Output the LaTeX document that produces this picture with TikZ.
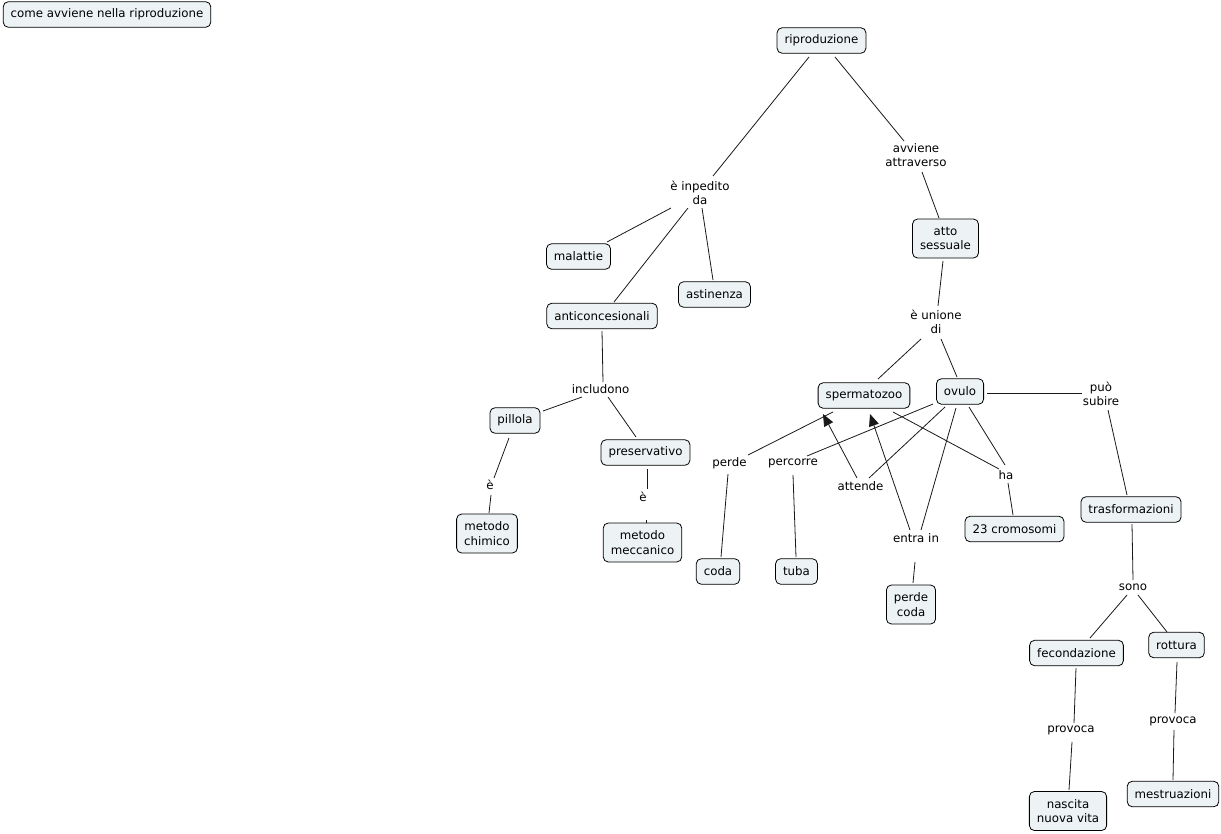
\documentclass[tikz,border=0pt]{standalone}
\usepackage{fontspec}
\newfontfamily\cmfont{DejaVu Sans}
\usetikzlibrary{arrows.meta}
\definecolor{cfill}{RGB}{237,243,245}
\begin{document}
\begin{tikzpicture}[x=1pt,y=-1pt,
  concept/.style={draw=black, line width=0.8pt, rounded corners=5pt, fill=cfill,
    font={\cmfont\fontsize{11.8}{14.5}\selectfont}, align=center,
    inner xsep=7.5pt, inner ysep=6pt, minimum height=25.5pt},
  twoline/.style={concept, minimum height=39pt},
  linklabel/.style={font={\cmfont\fontsize{11.8}{14.5}\selectfont}, align=center, inner sep=1pt},
  conn/.style={draw=black!90, line width=0.8pt},
  arr/.style={conn, -{Triangle[length=12pt,width=10pt]}}]
\useasboundingbox (0,0) rectangle (1221,833);
% concepts
\node[concept] (title) at (107,14.5) {come avviene nella riproduzione};
\node[concept] (ripro) at (821.5,40.5) {riproduzione};
\node[concept] (malattie) at (578.5,256.5) {malattie};
\node[concept] (astin) at (714.5,294.5) {astinenza};
\node[concept] (anti) at (602,316) {anticoncesionali};
\node[twoline] (atto) at (945.5,238.5) {atto\\sessuale};
\node[concept] (sperm) at (864,395.5) {spermatozoo};
\node[concept] (ovulo) at (960,391.5) {ovulo};
\node[concept] (pillola) at (515,420.5) {pillola};
\node[concept] (preserv) at (645.5,452.5) {preservativo};
\node[twoline] (chim) at (487,533.5) {metodo\\chimico};
\node[twoline] (mecc) at (642.5,542.5) {metodo\\meccanico};
\node[concept] (coda) at (718,571.5) {coda};
\node[concept] (tuba) at (796.5,571.5) {tuba};
\node[twoline] (pcoda) at (911,604.5) {perde\\coda};
\node[concept] (crom) at (1014.5,529) {23 cromosomi};
\node[concept] (trasf) at (1131,509.5) {trasformazioni};
\node[concept] (fecond) at (1076.5,653) {fecondazione};
\node[concept] (rottura) at (1176.5,645) {rottura};
\node[twoline] (nascita) at (1068,811) {nascita\\nuova vita};
\node[concept] (mestr) at (1173,794) {mestruazioni};
% link labels
\node[linklabel] (inped) at (700,193) {è inpedito\\da};
\node[linklabel] (avv) at (916,155) {avviene\\attraverso};
\node[linklabel] (unione) at (936,322) {è unione\\di};
\node[linklabel] (includ) at (600.5,389) {includono};
\node[linklabel] (e1) at (490,485) {è};
\node[linklabel] (e2) at (643,497) {è};
\node[linklabel] (perdeL) at (729.5,463) {perde};
\node[linklabel] (percL) at (793,463) {percorre};
\node[linklabel] (attL) at (860.5,486) {attende};
\node[linklabel] (haL) at (1006,475) {ha};
\node[linklabel] (entraL) at (916,538) {entra in};
\node[linklabel] (puoL) at (1101,394) {può\\subire};
\node[linklabel] (sonoL) at (1133,587) {sono};
\node[linklabel] (provL) at (1071,730) {provoca};
\node[linklabel] (provR) at (1173,721) {provoca};
% connectors
\draw[conn] ([shift={(-12.5,16.5)}]ripro.center) -- ([shift={(13,-17)}]inped.center);
\draw[conn] ([shift={(13.5,16.5)}]ripro.center) -- ([shift={(-12,-14)}]avv.center);
\draw[conn] ([shift={(6,17)}]avv.center) -- ([shift={(-6.5,-20.5)}]atto.center);
\draw[conn] ([shift={(-29,15)}]inped.center) -- ([shift={(28.5,-14.5)}]malattie.center);
\draw[conn] ([shift={(-12,15)}]inped.center) -- ([shift={(12,-14)}]anti.center);
\draw[conn] ([shift={(2,15)}]inped.center) -- ([shift={(-1.5,-14.5)}]astin.center);
\draw[conn] ([shift={(-2.5,22.5)}]atto.center) -- ([shift={(2,-16)}]unione.center);
\draw[conn] ([shift={(-15,17)}]unione.center) -- ([shift={(14,-16.5)}]sperm.center);
\draw[conn] ([shift={(5,17)}]unione.center) -- ([shift={(-3,-14.5)}]ovulo.center);
\draw[conn] ([shift={(0,15)}]anti.center) -- ([shift={(2.5,-7)}]includ.center);
\draw[conn] ([shift={(-18.5,8)}]includ.center) -- ([shift={(28,-9.5)}]pillola.center);
\draw[conn] ([shift={(7.5,8)}]includ.center) -- ([shift={(-9.5,-15.5)}]preserv.center);
\draw[conn] ([shift={(-6,17.5)}]pillola.center) -- ([shift={(4,-7)}]e1.center);
\draw[conn] ([shift={(1,10)}]e1.center) -- ([shift={(2,-20.5)}]chim.center);
\draw[conn] ([shift={(1.5,16.5)}]preserv.center) -- ([shift={(4,-8)}]e2.center);
\draw[conn] ([shift={(3,23)}]e2.center) -- ([shift={(3.5,-19.5)}]mecc.center);
\draw[conn] ([shift={(-31,16.5)}]sperm.center) -- ([shift={(18.5,-8)}]perdeL.center);
\draw[conn] ([shift={(-1.5,11)}]perdeL.center) -- ([shift={(3,-14.5)}]coda.center);
\draw[conn] ([shift={(-27,12.5)}]ovulo.center) -- ([shift={(14,-7)}]percL.center);
\draw[conn] ([shift={(0,12)}]percL.center) -- ([shift={(-0.5,-14.5)}]tuba.center);
\draw[conn] ([shift={(-15,15.5)}]ovulo.center) -- ([shift={(8.5,-8)}]attL.center);
\draw[arr] ([shift={(-3.5,-8)}]attL.center) -- ([shift={(-41,18.5)}]sperm.center);
\draw[conn] ([shift={(-4,16.5)}]ovulo.center) -- ([shift={(5,-8)}]entraL.center);
\draw[arr] ([shift={(-6,-8)}]entraL.center) -- ([shift={(6,18.5)}]sperm.center);
\draw[conn] ([shift={(-1,24)}]entraL.center) -- ([shift={(2,-21.5)}]pcoda.center);
\draw[conn] ([shift={(29,16.5)}]sperm.center) -- ([shift={(-7,-6)}]haL.center);
\draw[conn] ([shift={(9,15.5)}]ovulo.center) -- ([shift={(-1,-10)}]haL.center);
\draw[conn] ([shift={(2,8)}]haL.center) -- ([shift={(-1.5,-14)}]crom.center);
\draw[conn] ([shift={(27,1.5)}]ovulo.center) -- ([shift={(-19,-1)}]puoL.center);
\draw[conn] ([shift={(7,16)}]puoL.center) -- ([shift={(-4,-14.5)}]trasf.center);
\draw[conn] ([shift={(1,14.5)}]trasf.center) -- ([shift={(0,-7)}]sonoL.center);
\draw[conn] ([shift={(-6,8)}]sonoL.center) -- ([shift={(13.5,-15)}]fecond.center);
\draw[conn] ([shift={(5,8)}]sonoL.center) -- ([shift={(-9.5,-13)}]rottura.center);
\draw[conn] ([shift={(-0.5,15)}]fecond.center) -- ([shift={(3,-7)}]provL.center);
\draw[conn] ([shift={(1,12)}]provL.center) -- ([shift={(1,-21)}]nascita.center);
\draw[conn] ([shift={(0.5,17)}]rottura.center) -- ([shift={(2,-8)}]provR.center);
\draw[conn] ([shift={(1,9)}]provR.center) -- ([shift={(0,-14)}]mestr.center);
\end{tikzpicture}
\end{document}
